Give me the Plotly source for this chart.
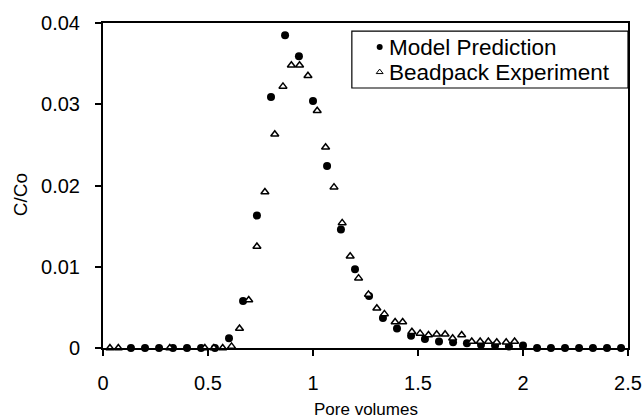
import plotly.graph_objects as go

# Model prediction (filled circles)
model_x = [0.133, 0.2, 0.267, 0.333, 0.4, 0.467, 0.533, 0.6, 0.667, 0.733, 0.8, 0.867,
           0.933, 1.0, 1.067, 1.133, 1.2, 1.267, 1.333, 1.4, 1.467, 1.533, 1.6, 1.667,
           1.733, 1.8, 1.867, 1.933, 2.0, 2.067, 2.133, 2.2, 2.267, 2.333, 2.4, 2.467, 2.533]
model_y = [0, 0, 0, 0, 0, 0, 0, 0.0012, 0.0058, 0.0163, 0.0309, 0.0385,
           0.0359, 0.0304, 0.0224, 0.0146, 0.0097, 0.0064, 0.0037, 0.0024, 0.0015, 0.0011, 0.0008, 0.0007,
           0.0006, 0.0004, 0.0003, 0.0002, 0.0003, 0, 0, 0, 0, 0, 0, 0, 0]

# Beadpack experiment (open triangles)
exp_x = [0.033, 0.073, 0.318, 0.485, 0.528, 0.57, 0.612, 0.65, 0.694, 0.733, 0.771, 0.818,
         0.857, 0.897, 0.936, 0.976, 1.02, 1.06, 1.1, 1.139, 1.177, 1.217, 1.264, 1.304,
         1.34, 1.391, 1.427, 1.471, 1.51, 1.55, 1.589, 1.629, 1.665, 1.708, 1.756, 1.796,
         1.835, 1.875, 1.92, 1.96]
exp_y = [0, 0, 0, 0, 0, 0, 0.0002, 0.0024, 0.0059, 0.0125, 0.0192, 0.0263,
         0.0322, 0.0348, 0.0348, 0.0335, 0.0292, 0.0247, 0.0198, 0.0154, 0.0113, 0.0086, 0.0066, 0.0049,
         0.0042, 0.0032, 0.0032, 0.0020, 0.0018, 0.0016, 0.0017, 0.0017, 0.0012, 0.0016, 0.0008, 0.0008,
         0.0008, 0.0007, 0.0007, 0.0008]

x_ticks = [0, 0.5, 1, 1.5, 2, 2.5]
x_labels = ["0", "0.5", "1", "1.5", "2", "2.5"]
y_ticks = [0, 0.01, 0.02, 0.03, 0.04]
y_labels = ["0", "0.01", "0.02", "0.03", "0.04"]

legend_names = ["Model Prediction", "Beadpack Experiment"]

FONT = "Liberation Sans, Arial, sans-serif"

# legend layout (fractions of the plot area)
LEG_X0, LEG_X1, LEG_Y0, LEG_Y1 = 0.474, 1.0, 0.80, 0.975
LEG_ROWS = [0.926, 0.849]
LEG_SYM_X = 0.527
LEG_TXT_X = 0.541

fig = go.Figure()
fig.add_trace(go.Scatter(x=model_x, y=model_y, mode="markers", showlegend=False,
                         marker=dict(symbol="circle", size=8, color="black"), cliponaxis=False))
fig.add_trace(go.Scatter(x=exp_x, y=exp_y, mode="markers", showlegend=False,
                         marker=dict(symbol="triangle-up", size=7, color="white",
                                     line=dict(color="black", width=1.5)), cliponaxis=False))
# legend symbols on an overlay axis spanning the plot area
fig.add_trace(go.Scatter(x=[LEG_SYM_X], y=[LEG_ROWS[0]], xaxis="x2", yaxis="y2", mode="markers",
                         showlegend=False, hoverinfo="skip",
                         marker=dict(symbol="circle", size=6, color="black")))
fig.add_trace(go.Scatter(x=[LEG_SYM_X], y=[LEG_ROWS[1]], xaxis="x2", yaxis="y2", mode="markers",
                         showlegend=False, hoverinfo="skip",
                         marker=dict(symbol="triangle-up", size=6, color="white",
                                     line=dict(color="black", width=1))))

axis_common = dict(showline=True, linecolor="black", linewidth=2, mirror=True,
                   ticks="outside", ticklen=6, tickcolor="black", tickwidth=1.5,
                   showgrid=False, zeroline=False, automargin=False)

fig.update_layout(
    width=644, height=419,
    margin=dict(l=103, r=16, t=23, b=71),
    paper_bgcolor="white", plot_bgcolor="white",
    font=dict(family=FONT, size=20, color="black"),
    showlegend=False,
    xaxis=dict(range=[0, 2.5], tickvals=x_ticks, ticktext=x_labels,
               ticklabelstandoff=10, **axis_common),
    yaxis=dict(range=[0, 0.04], tickvals=y_ticks, ticktext=y_labels,
               ticklabelstandoff=11, **axis_common),
    xaxis2=dict(range=[0, 1], overlaying="x", visible=False, anchor="y2", fixedrange=True),
    yaxis2=dict(range=[0, 1], overlaying="y", visible=False, anchor="x2", fixedrange=True),
    shapes=[dict(type="rect", xref="paper", yref="paper", x0=LEG_X0, x1=LEG_X1,
                 y0=LEG_Y0, y1=LEG_Y1, line=dict(color="black", width=1.2),
                 fillcolor="white", layer="below")],
    annotations=[
        dict(text=legend_names[0], x=LEG_TXT_X, y=LEG_ROWS[0], xref="paper", yref="paper",
             xanchor="left", yanchor="middle", showarrow=False, font=dict(size=22.5)),
        dict(text=legend_names[1], x=LEG_TXT_X, y=LEG_ROWS[1], xref="paper", yref="paper",
             xanchor="left", yanchor="middle", showarrow=False, font=dict(size=22.5)),
        dict(text="Pore volumes", x=0.501, y=-0.188, xref="paper", yref="paper",
             xanchor="center", yanchor="middle", showarrow=False, font=dict(size=17)),
        dict(text="C/Co", x=-0.158, y=0.47, xref="paper", yref="paper", textangle=-90,
             xanchor="center", yanchor="middle", showarrow=False, font=dict(size=19)),
    ],
)

# remove the default page margin so the 644x419 figure fills the window exactly
fig.write_html("out.html",
               config={"displayModeBar": False},
               post_script="document.body.style.margin='0px';document.body.style.overflow='hidden';")
